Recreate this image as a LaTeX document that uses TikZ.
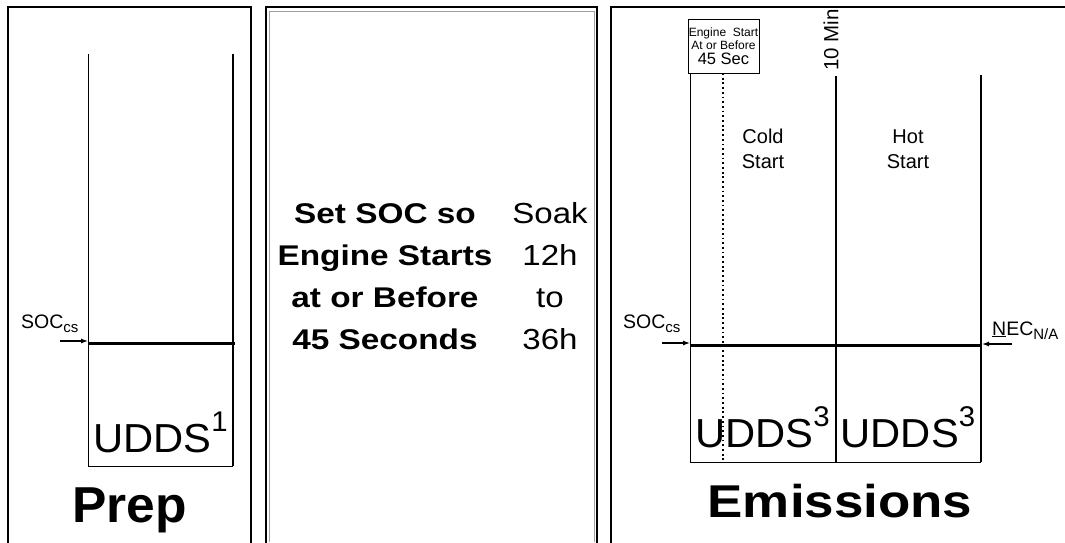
\documentclass[tikz,border=0pt]{standalone}
\usepackage{fontspec}
\setmainfont{Liberation Sans}
\usepackage{graphicx}
\usetikzlibrary{positioning, arrows.meta}
\definecolor{framegray}{HTML}{A0A0A0}
\newcommand{\hstretch}[2]{\scalebox{#1}[1]{#2}}
\newcommand{\fsz}[1]{\fontsize{#1}{#1}\selectfont}
\newcommand{\cyclesup}[1]{\fsz{40.5}\hstretch{1.03}{UDDS\raisebox{21pt}{\fsz{28.5}#1}}}

\begin{document}
\begin{tikzpicture}[
  x=1pt, y=-1pt,
  frame/.style={line width=2.4pt, line cap=rect},
  inner frame/.style={line width=1pt, draw=framegray},
  phase/.style={line width=1pt},
  phase edge/.style={line width=1.4pt},
  socline/.style={line width=3pt},
  startline/.style={line width=2pt, dash pattern=on 1.8pt off 2.9pt},
  marker/.style={-{Latex[length=7pt, width=5pt]}, line width=1.2pt},
  lbl/.style={inner sep=0pt, anchor=base},
  title/.style={inner sep=0pt, anchor=base, font=\bfseries},
]
\useasboundingbox (0,0) rectangle (1065,542);

% --- Panel frames ---
\draw[frame] (8,542) -- (8,7) -- (251,7) -- (251,542);
\draw[frame] (266,542) -- (266,7) -- (597,7) -- (597,542);
\draw[inner frame] (269,542) -- (269,11) -- (594,11) -- (594,542);
\draw[frame] (611,542) -- (611,7) -- (1065,7);

% --- Prep ---
\coordinate (prepTL) at (88,54);
\coordinate (prepTR) at (233,54);
\coordinate (prepBL) at (88,466);
\coordinate (prepBR) at (233,466);
\coordinate (prepSocL) at (88,343);
\coordinate (prepSocR) at (235,343);
\draw[phase] (prepTL) -- (prepBL) -- (prepBR);
\draw[phase edge] (prepBR) -- (prepTR);
\draw[socline] (prepSocL) -- (prepSocR);

\node[lbl, anchor=base west] (prepSoc) at (21,328)
  {\fsz{19.5}SOC\raisebox{-4pt}{\fsz{15}cs}};
\coordinate (prepSocTail) at (60,341);
\draw[marker] (prepSocTail) -- (prepSocTail -| prepSocL);

\node[lbl] (prepCycle) at (160.5,452) {\cyclesup{1}};
\node[title] (prepTitle) at (129.5,522) {\fsz{50.5}\hstretch{1.02}{Prep}};

% --- Soak ---
\node[lbl, font=\bfseries] (socSet) at (385,223)
  {\fontsize{28.5}{42.3}\selectfont\hstretch{1.17}{\begin{tabular}[t]{@{}c@{}}
    Set SOC so\\Engine Starts\\at or Before\\45 Seconds\end{tabular}}};
\node[lbl] (soakTime) at (550,223)
  {\fontsize{29}{42.3}\selectfont\hstretch{1.14}{\begin{tabular}[t]{@{}c@{}}
    Soak\\12h\\to\\36h\end{tabular}}};

% --- Emissions ---
\node[draw, fill=white, line width=1pt, minimum width=71pt, minimum height=54pt,
      inner sep=0pt, align=center, font=\fontsize{12}{13}\selectfont]
  (startBox) at (723.5,46)
  {Engine\ \ Start\\At or Before\\[2pt]{\fontsize{16.5}{17}\selectfont 45 Sec}};
\coordinate (coldTL) at (690,73);
\coordinate (coldBL) at (690,462);
\coordinate (midT) at (836,76);
\coordinate (midB) at (836,462);
\coordinate (hotTR) at (981,75);
\coordinate (hotBR) at (981,462);
\coordinate (dotT) at (723,73);
\coordinate (dotB) at (723,462);
\coordinate (emSocL) at (690,345);
\coordinate (emSocR) at (982,345);

\draw[phase] (coldTL) -- (coldBL) -- (hotBR);
\draw[phase edge] (midT) -- (midB);
\draw[phase edge] (hotBR) -- (hotTR);
\draw[startline] (dotT) -- (dotB);
\draw[socline] (emSocL) -- (emSocR);

\node[inner sep=0pt, rotate=90] (tenMin) at (831,40) {\fsz{20.5}10 Min};
\node[lbl, align=center, font=\fontsize{20}{25}\selectfont] (coldLbl) at (763,168)
  {Cold\\Start};
\node[lbl, align=center, font=\fontsize{20}{25}\selectfont] (hotLbl) at (908,168)
  {Hot\\Start};

\node[lbl, anchor=base west] (emSoc) at (623,328)
  {\fsz{19.5}SOC\raisebox{-4pt}{\fsz{15}cs}};
\coordinate (emSocTail) at (662,343);
\draw[marker] (emSocTail) -- (emSocTail -| emSocL);

\node[lbl, anchor=base west] (emNec) at (992,335)
  {\fsz{19.5}\underline{N}EC\raisebox{-4pt}{\fsz{15}N/A}};
\coordinate (emNecTail) at (1012,344);
\draw[marker] (emNecTail) -- (emNecTail -| emSocR);

\node[lbl] (coldCycle) at (762.5,447) {\cyclesup{3}};
\node[lbl] (hotCycle) at (908,447) {\cyclesup{3}};
\node[title] (emTitle) at (840,517) {\fsz{46}\hstretch{1.15}{Emissions}};

\end{tikzpicture}
\end{document}
